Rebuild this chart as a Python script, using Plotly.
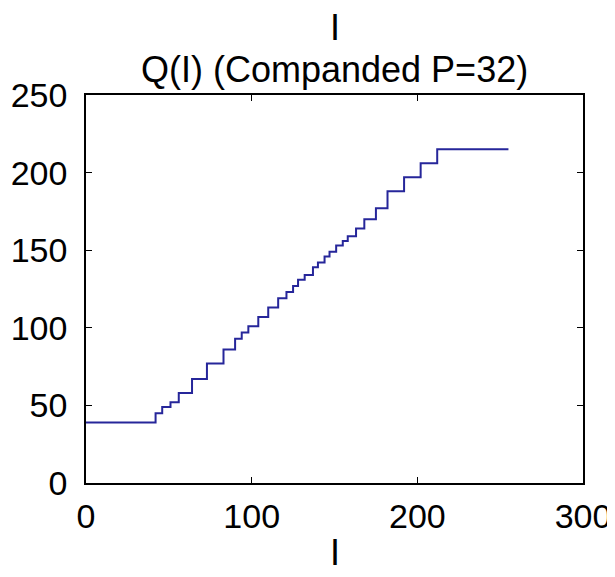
import plotly.graph_objects as go

# Input intensity values where the quantizer output steps up
step_inputs = [0, 42, 46, 51, 56, 64, 73, 83, 90, 94, 98, 104, 110, 116, 121, 125,
               128, 132, 137, 140, 144, 147, 151, 155, 158, 163, 168, 175, 182,
               192, 202, 212]
# Output level held from each step input onward
step_levels = [39, 45, 49, 52, 58, 67, 77, 86, 93, 97, 101, 107, 113, 119, 123, 127,
               131, 134, 139, 142, 146, 149, 153, 156, 159, 164, 170, 177, 188,
               197, 206, 215]
input_max = 255

x_ticks = [0, 100, 200, 300]
y_ticks = [0, 50, 100, 150, 200, 250]

title_top = "I"
title_main = "Q(I) (Companded P=32)"
x_label = "I"

xs = step_inputs + [input_max]
ys = step_levels + [step_levels[-1]]

FONT = "Liberation Sans, Arial, sans-serif"
FS = 34
FS_TITLE = 36

fig = go.Figure()
fig.add_trace(go.Scatter(
    x=xs, y=ys, mode="lines", line_shape="hv",
    line=dict(color="#26269a", width=2),
    showlegend=False, hoverinfo="skip",
))

axis_common = dict(
    showgrid=False, zeroline=False, showline=True, linecolor="black", linewidth=1.5,
    mirror="ticks", ticks="inside", ticklen=6, tickwidth=1.2, tickcolor="black",
    tickfont=dict(family=FONT, size=FS, color="black"), automargin=False,
)

fig.update_layout(
    width=607, height=569,
    margin=dict(l=78, r=32, t=87, b=94),
    paper_bgcolor="white", plot_bgcolor="white",
    font=dict(family=FONT, size=FS, color="black"),
    xaxis=dict(range=[0, 300], tickvals=x_ticks, ticklabelstandoff=2, **axis_common),
    yaxis=dict(range=[0, 250], tickvals=y_ticks, ticklabelstandoff=10, **axis_common),
    annotations=[
        dict(text=title_top, xref="paper", yref="paper", x=0.5, y=1.175,
             xanchor="center", yanchor="middle", showarrow=False,
             font=dict(family=FONT, size=FS_TITLE, color="black")),
        dict(text=title_main, xref="paper", yref="paper", x=0.5, y=1.066,
             xanchor="center", yanchor="middle", showarrow=False,
             font=dict(family=FONT, size=FS_TITLE, color="black")),
        dict(text=x_label, xref="paper", yref="paper", x=0.5, y=-0.178,
             xanchor="center", yanchor="middle", showarrow=False,
             font=dict(family=FONT, size=FS_TITLE, color="black")),
    ],
)

fig.write_html("out.html")
